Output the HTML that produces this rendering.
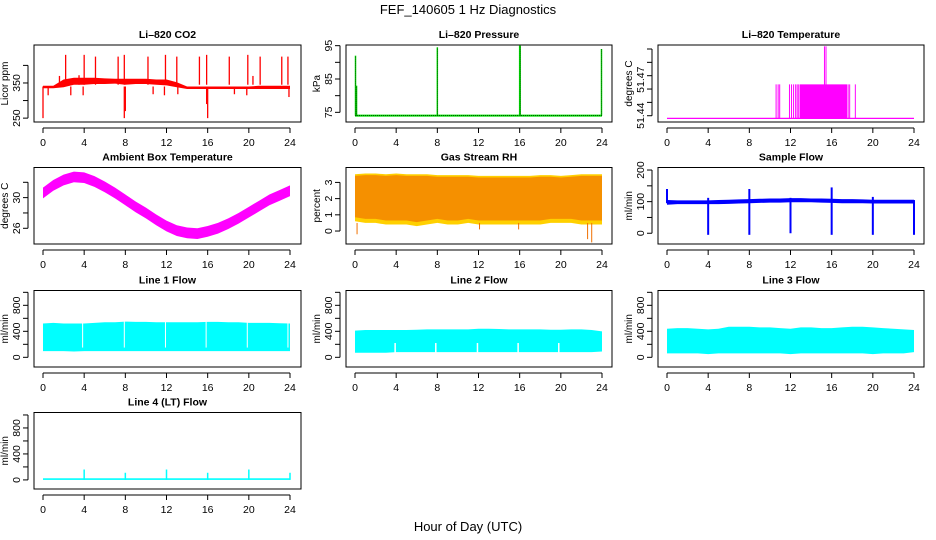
<!DOCTYPE html>
<html><head><meta charset="utf-8"><style>
html,body{margin:0;padding:0;background:#fff;}
svg{display:block;font-family:"Liberation Sans",sans-serif;}
</style></head><body>
<svg id="chart" width="936" height="540" viewBox="0 0 936 540" xmlns="http://www.w3.org/2000/svg">
<rect width="936" height="540" fill="#fff"/>
<text x="468" y="14" font-size="13" text-anchor="middle">FEF_140605  1 Hz Diagnostics</text>
<text x="468" y="531" font-size="13" text-anchor="middle">Hour of Day (UTC)</text>
</svg>
<script>
// ---- data ----
const hours = [0,1,2,3,4,5,6,7,8,9,10,11,12,13,14,15,16,17,18,19,20,21,22,23,24];
const xTicks = [0,4,8,12,16,20,24];
// CO2
const co2Lo = [335,335,338,345,345,347,347,348,345,347,347,345,343,338,333,333,333,333,333,333,333,333,333,333,333];
const co2Hi = [342,342,360,365,365,365,363,362,362,362,362,360,360,352,340,340,340,340,340,340,340,342,342,342,342];
const co2SpikeH = [2.2,4.0,5.1,7.3,7.9,10.2,11.9,13.0,15.2,15.9,18.1,19.9,21.1,23.2,23.8,1.6,3.5,20.4];
const co2SpikeV = [430,430,425,425,430,425,430,425,425,430,425,430,425,425,425,370,372,370];
const co2DipH = [0.0,7.9,8.0,16.0,0.5,2.7,3.9,11.8,13.1,18.6,19.8,23.9,10.7,15.9];
const co2DipV = [250,250,270,250,315,315,315,315,318,318,315,310,318,290];
// Pressure
const presBase = 74;
const presSpikeH = [0.05,0.15,8.0,16.0,16.05,23.95];
const presSpikeV = [92,83,94.5,95,95,94];
// Li-820 temperature
const ltBase = 51.438;
const ltBarH = [10.6,10.8,10.95,11.9,12.1,12.3,12.5,12.65,12.8,17.6,17.75,18.3];
const ltBlockStart = 12.9, ltBlockEnd = 17.5, ltBarTop = 51.4635;
const ltSpikeH = [15.3,15.45];
const ltSpikeV = [51.492,51.492];
// Ambient box temperature (band centre)
const ambMid = [30.6,31.6,32.3,32.7,32.6,32.1,31.4,30.6,29.7,28.8,28.0,27.1,26.3,25.7,25.4,25.3,25.6,26.0,26.6,27.3,28.1,28.9,29.7,30.3,30.9];
const ambHalf = 0.7;
// Gas stream RH
const rhHi = [3.5,3.55,3.55,3.5,3.55,3.5,3.5,3.5,3.45,3.45,3.45,3.45,3.4,3.4,3.4,3.4,3.4,3.4,3.45,3.45,3.4,3.45,3.5,3.5,3.5];
const rhLo = [0.6,0.5,0.5,0.4,0.4,0.4,0.3,0.4,0.5,0.4,0.4,0.5,0.4,0.4,0.4,0.4,0.4,0.4,0.4,0.5,0.5,0.5,0.4,0.4,0.4];
const rhDipH = [0.2,22.6,23.0,12.1,15.9];
const rhDipV = [-0.2,-0.5,-0.7,0.1,0.1];
// Sample flow
const sfLo = [90,92,92,92,92,92,93,94,95,96,97,97,98,98,98,97,96,95,95,95,94,94,94,94,94];
const sfHi = [105,104,104,104,104,105,106,107,108,109,110,110,111,111,110,110,109,108,108,107,106,106,106,106,106];
const sfEventH = [0.0,4.0,8.0,12.0,16.0,20.0,24.0];
const sfEventLow = [95,-5,-5,0,-5,-5,-5];
const sfEventHigh = [140,112,140,112,145,115,105];
// Line flows
const l1Hi = [520,530,520,520,520,530,540,540,550,545,545,540,540,540,540,540,545,545,540,540,530,530,530,525,520];
const l1Lo = [95,95,95,90,95,95,95,95,95,95,95,95,95,95,95,95,95,95,95,95,95,95,95,95,95];
const l1Gap = [3.85,7.9,11.9,15.85,19.85,23.8];
const l2Hi = [410,420,420,420,420,420,425,430,430,430,430,430,440,440,435,430,430,430,430,425,425,430,430,420,400];
const l2Lo = [70,70,70,70,80,80,80,80,80,80,80,80,80,80,80,80,80,80,80,80,80,80,80,80,90];
const l2Gap = [3.9,7.85,11.9,15.85,19.8];
const l3Hi = [440,450,450,440,430,440,470,470,470,460,460,450,440,460,460,450,450,460,470,470,460,450,440,430,420];
const l3Lo = [60,60,60,60,50,60,60,60,60,60,60,60,50,60,60,60,60,60,60,60,50,60,60,60,80];
const l4Base = [0,25];
const l4SpikeH = [4.0,8.0,12.0,16.0,20.0,24.0];
const l4SpikeV = [160,110,160,110,160,110];

// ---- layout ----
const svg = document.getElementById('chart');
const NS = 'http://www.w3.org/2000/svg';
const colBoxL = [34,346,658], colBoxR = [301,612,924];
const colX0 = [43,355,667], colX24 = [290,602,914];
const rowTop = [45,167.5,290.5,412.5], rowBot = [122,244,367,489];

function add(parent, tag, attrs, name) {
  const e = document.createElementNS(NS, tag);
  for (const k in attrs) e.setAttribute(k, attrs[k]);
  
  
  parent.appendChild(e);
  return e;
}

function panel(cfg) {
  const c = cfg.col, r = cfg.row;
  const g = add(svg, 'g', {}, cfg.name + '-panel');
  const xs = h => colX0[c] + h * (colX24[c] - colX0[c]) / 24;
  const top = rowTop[r], bot = rowBot[r];
  const ys = v => bot - (v - cfg.ylim[0]) / (cfg.ylim[1] - cfg.ylim[0]) * (bot - top);
  const t = add(g, 'text', {x: (colBoxL[c] + colBoxR[c]) / 2, y: top - 7, 'font-size': 10.5, 'font-weight': 'bold', 'text-anchor': 'middle'}, cfg.name + '-title');
  t.textContent = cfg.title;
  const ay = bot + 6;
  add(g, 'line', {x1: xs(0), x2: xs(24), y1: ay, y2: ay, stroke: '#000'}, 'x-axis-line');
  xTicks.forEach(v => {
    add(g, 'line', {x1: xs(v), x2: xs(v), y1: ay, y2: ay + 5, stroke: '#000'}, 'x-tick');
    const tl = add(g, 'text', {x: xs(v), y: ay + 18, 'font-size': 10.5, 'text-anchor': 'middle'}, 'x-tick-label');
    tl.textContent = v;
  });
  const ax = colBoxL[c] - 6;
  const yt = cfg.yticks;
  add(g, 'line', {x1: ax, x2: ax, y1: ys(yt[0]), y2: ys(yt[yt.length - 1]), stroke: '#000'}, 'y-axis-line');
  yt.forEach(v => {
    add(g, 'line', {x1: ax - 5, x2: ax, y1: ys(v), y2: ys(v), stroke: '#000'}, 'y-tick');
  });
  cfg.ylabels.forEach((v, i) => {
    const yy = ys(v);
    const tl = add(g, 'text', {x: ax - 8, y: yy, 'font-size': 10.5, 'text-anchor': 'middle', transform: `rotate(-90 ${ax - 8} ${yy})`}, 'y-tick-label');
    tl.textContent = cfg.ylabelText ? cfg.ylabelText[i] : v;
  });
  const lx = ax - 20, ly = (top + bot) / 2;
  const yl = add(g, 'text', {x: lx, y: ly, 'font-size': 10, 'text-anchor': 'middle', transform: `rotate(-90 ${lx} ${ly})`}, cfg.name + '-y-title');
  yl.textContent = cfg.ylab;
  const clipId = 'clip' + c + r;
  const cp = add(g, 'clipPath', {id: clipId}, 'clip');
  add(cp, 'rect', {x: colBoxL[c], y: top, width: colBoxR[c] - colBoxL[c], height: bot - top}, 'clip-rect');
  const dg = add(g, 'g', {'clip-path': `url(#${clipId})`}, cfg.name + '-series');
  cfg.draw(dg, xs, ys);
  add(g, 'rect', {x: colBoxL[c], y: top, width: colBoxR[c] - colBoxL[c], height: bot - top, fill: 'none', stroke: '#000'}, 'plot-box');
}

function band(g, xs, ys, lo, hi, color, name) {
  let pts = [];
  hours.forEach((h, i) => pts.push(xs(h) + ',' + ys(hi[i])));
  for (let i = hours.length - 1; i >= 0; i--) pts.push(xs(hours[i]) + ',' + ys(lo[i]));
  add(g, 'polygon', {points: pts.join(' '), fill: color}, name);
}
function vline(g, xs, ys, h, v1, v2, color, w, name) {
  add(g, 'line', {x1: xs(h), x2: xs(h), y1: ys(v1), y2: ys(v2), stroke: color, 'stroke-width': w}, name);
}

panel({col:0,row:0,name:'co2',title:'Li\u2013820 CO2',ylab:'Licor ppm',ylim:[239,458],yticks:[250,300,350,400],ylabels:[250,350],
  draw:(g,xs,ys)=>{
    band(g,xs,ys,co2Lo,co2Hi,'#ff0000','co2-band');
    co2SpikeH.forEach((h,i)=>vline(g,xs,ys,h,345,co2SpikeV[i],'#ff0000',1.3,'co2-spike'));
    co2DipH.forEach((h,i)=>vline(g,xs,ys,h,340,co2DipV[i],'#ff0000',1.3,'co2-dip'));
  }});
panel({col:1,row:0,name:'pressure',title:'Li\u2013820 Pressure',ylab:'kPa',ylim:[72.1,95.2],yticks:[75,80,85,90,95],ylabels:[75,85,95],
  draw:(g,xs,ys)=>{
    add(g,'line',{x1:xs(0),x2:xs(24),y1:ys(presBase),y2:ys(presBase),stroke:'#00e000','stroke-width':2},'pressure-line');
    add(g,'line',{x1:xs(0),x2:xs(24),y1:ys(presBase),y2:ys(presBase),stroke:'#000','stroke-width':0.6,'stroke-dasharray':'1,1'},'pressure-line-dots');
    presSpikeH.forEach((h,i)=>{
      vline(g,xs,ys,h,presBase,presSpikeV[i],'#00e000',1.5,'pressure-spike');
      add(g,'line',{x1:xs(h),x2:xs(h),y1:ys(presBase),y2:ys(presSpikeV[i]),stroke:'#000','stroke-width':0.6,'stroke-dasharray':'1,1'},'pressure-spike-dots');
    });
  }});
panel({col:2,row:0,name:'li820-temp',title:'Li\u2013820 Temperature',ylab:'degrees C',ylim:[51.4353,51.493],yticks:[51.44,51.45,51.46,51.47,51.48,51.49],ylabels:[51.44,51.467],ylabelText:['51.44','51.47'],
  draw:(g,xs,ys)=>{
    add(g,'line',{x1:xs(0),x2:xs(24),y1:ys(ltBase),y2:ys(ltBase),stroke:'#ff00ff','stroke-width':1.2},'temp-baseline');
    ltBarH.forEach(h=>vline(g,xs,ys,h,ltBase,ltBarTop,'#ff00ff',1,'temp-bar'));
    add(g,'rect',{x:xs(ltBlockStart),y:ys(ltBarTop),width:xs(ltBlockEnd)-xs(ltBlockStart),height:ys(ltBase)-ys(ltBarTop),fill:'#ff00ff'},'temp-block');
    ltSpikeH.forEach((h,i)=>vline(g,xs,ys,h,ltBase,ltSpikeV[i],'#ff00ff',1,'temp-spike'));
  }});
panel({col:0,row:1,name:'ambient',title:'Ambient Box Temperature',ylab:'degrees C',ylim:[23.95,33.93],yticks:[26,28,30,32],ylabels:[26,30],
  draw:(g,xs,ys)=>{
    const lo=ambMid.map(v=>v-ambHalf), hi=ambMid.map(v=>v+ambHalf);
    band(g,xs,ys,lo,hi,'#ff00ff','ambient-band');
  }});
panel({col:1,row:1,name:'rh',title:'Gas Stream RH',ylab:'percent',ylim:[-0.8,3.92],yticks:[0,1,2,3],ylabels:[0,1,2,3],
  draw:(g,xs,ys)=>{
    band(g,xs,ys,rhLo,rhHi,'#ffd000','rh-band-edge');
    const lo=rhLo.map(v=>v+0.25), hi=rhHi.map(v=>v-0.1);
    band(g,xs,ys,lo,hi,'#f59000','rh-band');
    rhDipH.forEach((h,i)=>vline(g,xs,ys,h,0.5,rhDipV[i],'#f07000',1,'rh-dip'));
  }});
panel({col:2,row:1,name:'sample-flow',title:'Sample Flow',ylab:'ml/min',ylim:[-34,208],yticks:[0,50,100,150,200],ylabels:[0,100,200],
  draw:(g,xs,ys)=>{
    band(g,xs,ys,sfLo,sfHi,'#0000ff','sample-band');
    sfEventH.forEach((h,i)=>vline(g,xs,ys,h,sfEventLow[i],sfEventHigh[i],'#0000ff',2,'sample-event'));
  }});
const flowCfg = {ylab:'ml/min',yticks:[0,200,400,600,800,1000],ylabels:[0,400,800]};
panel(Object.assign({col:0,row:2,name:'line1',title:'Line 1 Flow',ylim:[-149,1028],
  draw:(g,xs,ys)=>{
    band(g,xs,ys,l1Lo,l1Hi,'#00ffff','line1-band');
    l1Gap.forEach(h=>vline(g,xs,ys,h,150,600,'#fff',1,'line1-gap'));
  }},flowCfg));
panel(Object.assign({col:1,row:2,name:'line2',title:'Line 2 Flow',ylim:[-149,1028],
  draw:(g,xs,ys)=>{
    band(g,xs,ys,l2Lo,l2Hi,'#00ffff','line2-band');
    l2Gap.forEach(h=>vline(g,xs,ys,h,60,220,'#fff',1.5,'line2-gap'));
  }},flowCfg));
panel(Object.assign({col:2,row:2,name:'line3',title:'Line 3 Flow',ylim:[-149,1028],
  draw:(g,xs,ys)=>{
    band(g,xs,ys,l3Lo,l3Hi,'#00ffff','line3-band');
  }},flowCfg));
panel(Object.assign({col:0,row:3,name:'line4',title:'Line 4 (LT) Flow',ylim:[-140,1038],
  draw:(g,xs,ys)=>{
    add(g,'rect',{x:xs(0),y:ys(l4Base[1]),width:xs(24)-xs(0),height:ys(l4Base[0])-ys(l4Base[1]),fill:'#00ffff'},'line4-base');
    l4SpikeH.forEach((h,i)=>vline(g,xs,ys,h,0,l4SpikeV[i],'#00ffff',1.5,'line4-spike'));
  }},flowCfg));
</script>
</body></html>
